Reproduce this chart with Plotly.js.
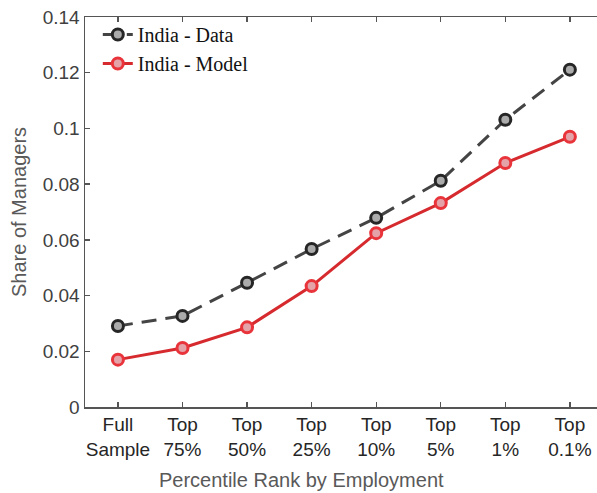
<!DOCTYPE html>
<html><head><meta charset="utf-8">
<script src="https://cdn.plot.ly/plotly-3.0.1.min.js"></script>
<style>html,body{margin:0;padding:0;background:#fff;}#chart{width:597px;height:493px;}</style>
</head><body><div id="chart"></div>
<script>
const categories = ["Full<br>Sample","Top<br>75%","Top<br>50%","Top<br>25%","Top<br>10%","Top<br>5%","Top<br>1%","Top<br>0.1%"];
const indiaData = [0.0291, 0.0327, 0.0446, 0.0567, 0.0679, 0.0812, 0.1031, 0.1211];
const indiaModel = [0.0170, 0.0212, 0.0286, 0.0434, 0.0624, 0.0732, 0.0876, 0.0970];
const yTicks = [0, 0.02, 0.04, 0.06, 0.08, 0.1, 0.12, 0.14];
const yTickText = ["0","0.02","0.04","0.06","0.08","0.1","0.12","0.14"];

const traces = [
  {x: categories, y: indiaData, name: "India - Data", type: "scatter", mode: "lines+markers",
   line: {color: "#444444", width: 3, dash: "15px,9px"},
   marker: {size: 11, color: "#ababab", line: {color: "#262626", width: 3}}},
  {x: categories, y: indiaModel, name: "India - Model", type: "scatter", mode: "lines+markers",
   line: {color: "#d62a2e", width: 3},
   marker: {size: 11, color: "#e3a3a8", line: {color: "#e8343a", width: 3}}}
];

const layout = {
  width: 597, height: 493,
  margin: {l: 85, r: 0, t: 17, b: 86},
  paper_bgcolor: "#fff", plot_bgcolor: "#fff",
  font: {family: "Liberation Sans, Arial, sans-serif", color: "#404040"},
  showlegend: true,
  legend: {x: 0.025, y: 1.005, xanchor: "left", yanchor: "top", bgcolor: "rgba(0,0,0,0)",
    font: {family: "Liberation Serif, Times New Roman, serif", size: 20, color: "#111"},
    tracegroupgap: 0, itemwidth: 30},
  xaxis: {type: "category", range: [-0.51, 7.42], showgrid: false, zeroline: false,
    showline: true, linecolor: "#555", linewidth: 1.5, mirror: "ticks",
    ticks: "inside", ticklen: 5, tickwidth: 1.3, tickcolor: "#555",
    tickfont: {size: 19, color: "#262626"}, fixedrange: true},
  yaxis: {range: [0, 0.14], tickvals: yTicks, ticktext: yTickText, showgrid: false, zeroline: false,
    showline: true, linecolor: "#555", linewidth: 1.5,
    ticks: "inside", ticklen: 5, tickwidth: 1.3, tickcolor: "#555",
    tickfont: {size: 19, color: "#404040"},
    title: {text: "Share of Managers", font: {size: 20, color: "#595959"}, standoff: 10}},
  annotations: [{text: "Percentile Rank by Employment", xref: "paper", yref: "paper",
    x: (301-85)/512, y: 0, yshift: -60, xanchor: "center", yanchor: "top", showarrow: false,
    font: {size: 20, color: "#595959"}}]
};
Plotly.newPlot("chart", traces, layout, {displayModeBar: false, staticPlot: true});
</script></body></html>
